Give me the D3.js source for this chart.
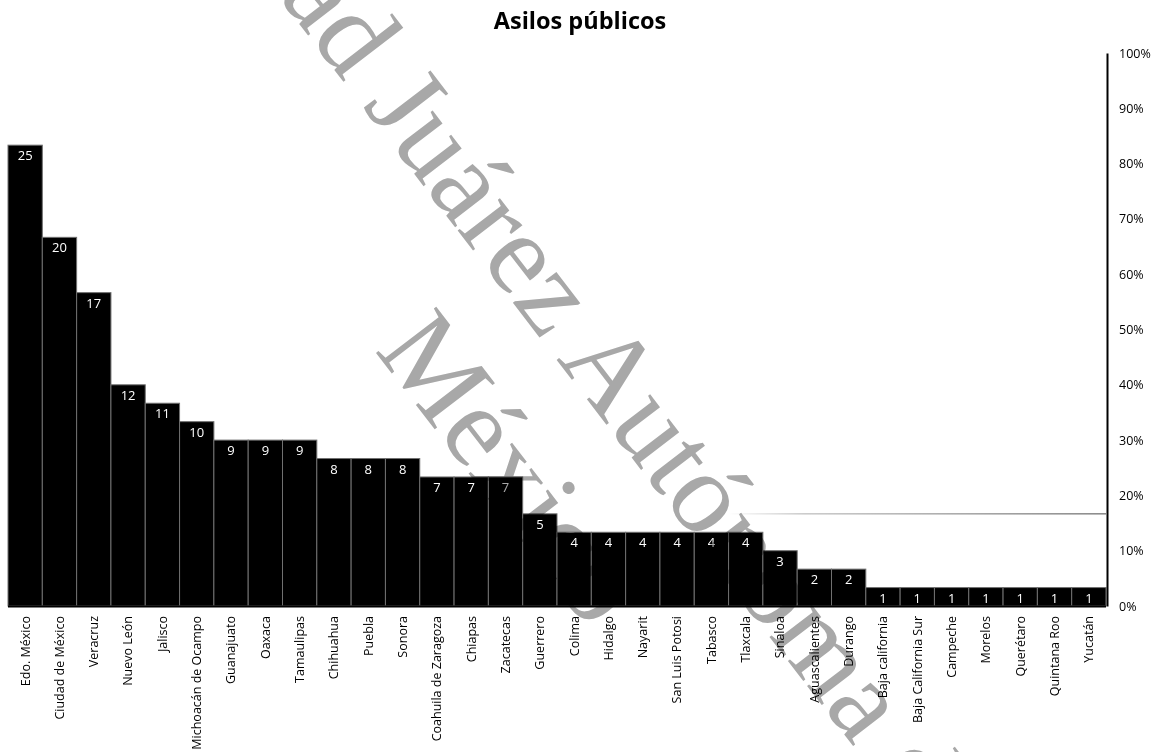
<!DOCTYPE html>
<html>
<head>
<meta charset="utf-8">
<script src="https://cdn.jsdelivr.net/npm/d3@7"></script>
<style>
  html, body { margin: 0; padding: 0; background: #fff; }
  svg { display: block; }
</style>
</head>
<body>
<svg id="chart" width="1156" height="752"></svg>
<script>
// Public care homes per state
const states = [
  "Edo. México", "Ciudad de México", "Veracruz", "Nuevo León", "Jalisco",
  "Michoacán de Ocampo", "Guanajuato", "Oaxaca", "Tamaulipas", "Chihuahua",
  "Puebla", "Sonora", "Coahuila de Zaragoza", "Chiapas", "Zacatecas",
  "Guerrero", "Colima", "Hidalgo", "Nayarit", "San Luis Potosi", "Tabasco",
  "Tlaxcala", "Sinaloa", "Aguascalientes", "Durango", "Baja california",
  "Baja California Sur", "Campeche", "Morelos", "Querétaro", "Quintana Roo",
  "Yucatán"
];
const asilos = [25, 20, 17, 12, 11, 10, 9, 9, 9, 8, 8, 8, 7, 7, 7, 5, 4, 4, 4, 4, 4, 4, 3, 2, 2, 1, 1, 1, 1, 1, 1, 1];
const countMax = 30;
const pctTicks = [0, 0.1, 0.2, 0.3, 0.4, 0.5, 0.6, 0.7, 0.8, 0.9, 1];
const guideValue = 5;
const guideFrom = "Tlaxcala";
const title = "Asilos públicos";
const stampLine1 = "Universidad Juárez Autónoma de Tabasco";
const stampLine2 = "México";

const svg = d3.select("#chart");
const W = 1156, H = 752;
const m = { left: 8, right: 50, top: 53, bottom: 146 };
const FONT = "'Open Sans', 'Noto Sans', sans-serif";

const x = d3.scaleBand().domain(states).range([m.left, W - m.right]).padding(0);
const y = d3.scaleLinear().domain([0, countMax]).range([H - m.bottom, m.top]);
const yPct = d3.scaleLinear().domain([0, 1]).range([H - m.bottom, m.top]);

// title
svg.append("text")
  .attr("x", 580).attr("y", 29)
  .attr("text-anchor", "middle")
  .attr("font-family", FONT).attr("font-weight", 700).attr("font-size", 23.5)
  .attr("fill", "#000")
  .text(title);

// faint guide line
const grad = svg.append("defs").append("linearGradient")
  .attr("id", "guideGrad").attr("x1", "0%").attr("x2", "100%");
grad.append("stop").attr("offset", "0%").attr("stop-color", "#fff");
grad.append("stop").attr("offset", "20%").attr("stop-color", "#bbb");
grad.append("stop").attr("offset", "100%").attr("stop-color", "#666");
svg.append("rect")
  .attr("x", x(guideFrom))
  .attr("y", Math.round(y(guideValue)) - 0.75)
  .attr("width", x.range()[1] - x(guideFrom))
  .attr("height", 1.2)
  .attr("fill", "url(#guideGrad)");

// bars
svg.append("g").selectAll("rect")
  .data(asilos)
  .join("rect")
  .attr("x", (d, i) => x(states[i]))
  .attr("y", d => y(d))
  .attr("width", x.bandwidth())
  .attr("height", d => y(0) - y(d))
  .attr("fill", "#000")
  .attr("stroke", "#707070")
  .attr("stroke-width", 1);

// value labels
svg.append("g").selectAll("text")
  .data(asilos)
  .join("text")
  .attr("x", (d, i) => x(states[i]) + x.bandwidth() / 2)
  .attr("y", d => y(d) + 15)
  .attr("text-anchor", "middle")
  .attr("font-family", FONT).attr("font-size", 13)
  .attr("fill", "#fff")
  .text(d => d);

// baseline
svg.append("line")
  .attr("x1", m.left).attr("x2", W - m.right)
  .attr("y1", y(0) + 0.5).attr("y2", y(0) + 0.5)
  .attr("stroke", "#000").attr("stroke-width", 2);

// category labels
const xAxis = svg.append("g")
  .attr("transform", `translate(0,${y(0)})`)
  .call(d3.axisBottom(x).tickSize(0).tickPadding(0));
xAxis.select(".domain").remove();
xAxis.selectAll("text")
  .attr("font-family", FONT).attr("font-size", 12.5).attr("fill", "#000")
  .attr("transform", "rotate(-90)")
  .attr("x", -10).attr("y", 0).attr("dy", "0.35em")
  .attr("text-anchor", "end");

// right percentage axis
const yAxis = svg.append("g")
  .attr("transform", `translate(${W - m.right + 1},0)`)
  .call(d3.axisRight(yPct).tickValues(pctTicks).tickFormat(d3.format(".0%")).tickSize(0).tickPadding(12));
yAxis.select(".domain").attr("stroke", "#000").attr("stroke-width", 2);
yAxis.selectAll("text")
  .attr("font-family", FONT).attr("font-size", 12.5).attr("fill", "#000");

// watermark stamp, two centred lines multiplied over the chart
const fs = 116;
const stamp = svg.append("g")
  .attr("transform", "translate(362,106) rotate(52.5)")
  .style("mix-blend-mode", "multiply")
  .attr("fill", "#a8a8a8")
  .attr("font-family", "'Liberation Serif', 'DejaVu Serif', serif")
  .attr("font-size", fs);
const s1 = stamp.append("text").text(stampLine1);
const lead = s1.node().getSubStringLength(0, 12);
const len1 = s1.node().getComputedTextLength();
s1.attr("x", -lead).attr("y", 0);
stamp.append("text")
  .attr("x", -lead + len1 / 2).attr("y", fs * 1.2)
  .attr("text-anchor", "middle")
  .text(stampLine2);
</script>
</body>
</html>
